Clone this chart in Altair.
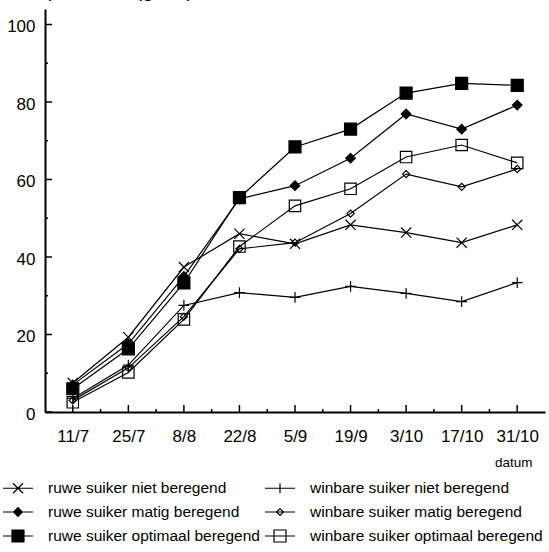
import altair as alt
import pandas as pd
from datetime import date

# ---- data ----
datums = ["11/7", "25/7", "8/8", "22/8", "5/9", "19/9", "3/10", "17/10", "31/10"]
ruwe_niet = [7.5, 19.3, 37.4, 46.0, 43.4, 48.3, 46.3, 43.7, 48.3]
ruwe_matig = [7.0, 17.6, 35.0, 55.0, 58.4, 65.5, 76.9, 73.0, 79.2]
ruwe_opt = [6.0, 16.3, 33.3, 55.3, 68.4, 73.0, 82.3, 84.8, 84.3]
winb_niet = [3.5, 12.1, 27.5, 30.8, 29.6, 32.4, 30.6, 28.5, 33.4]
winb_matig = [3.0, 11.4, 24.6, 42.1, 43.7, 51.2, 61.4, 58.1, 62.7]
winb_opt = [2.5, 10.2, 23.9, 42.7, 53.2, 57.6, 65.8, 68.9, 64.3]
namen = ["ruwe suiker niet beregend", "ruwe suiker matig beregend",
         "ruwe suiker optimaal beregend", "winbare suiker niet beregend",
         "winbare suiker matig beregend", "winbare suiker optimaal beregend"]
y_major = [0, 20, 40, 60, 80, 100]
y_minor = [10, 30, 50, 70, 90]
y_title = "ds, produktie (g/m2)"
x_title = "datum"

start = date(1990, 7, 4)
end = date(1990, 11, 7)


def dag(lbl):
    d, m = map(int, lbl.split("/"))
    return (date(1990, m, d) - start).days


dagen = [dag(s) for s in datums]
x_max = (end - start).days
x_minor = [d + 7 for d in dagen[:-1]]

waarden = [ruwe_niet, ruwe_matig, ruwe_opt, winb_niet, winb_matig, winb_opt]
rows = []
for naam, vals in zip(namen, waarden):
    for lbl, dg, v in zip(datums, dagen, vals):
        rows.append({"serie": naam, "dag": dg, "datum": lbl, "waarde": v})
df = pd.DataFrame(rows)

# marker shapes (size 144 -> 6 px per unit)
marker_paths = [
    "M-0.85,-0.85L0.85,0.85M-0.85,0.85L0.85,-0.85",
    "M-0.8,0L0,-0.8L0.8,0L0,0.8Z",
    "M-1,-1H1V1H-1Z",
    "M-0.9,0H0.9M0,-0.9V0.9",
    "M-0.6,0L0,-0.6L0.6,0L0,0.6Z",
    "M-0.95,-0.95H0.95V0.95H-0.95Z",
]
gevuld = [False, True, True, False, False, False]
fills = ["transparent", "black", "black", "transparent", "transparent", "transparent"]
# legend symbols (size 576 -> 12 px per unit): line + marker
L = "M-1.25,0H1.25"
legend_paths = [
    L + "M-0.42,-0.42L0.42,0.42M-0.42,0.42L0.42,-0.42",
    L + "M-0.36,0L0,-0.36L0.36,0L0,0.36Z",
    L + "M-0.5,-0.5H0.5V0.5H-0.5Z",
    L + "M0,-0.42V0.42",
    L + "M-0.28,0L0,-0.28L0.28,0L0,0.28Z",
    L + "M-0.5,-0.5H0.5V0.5H-0.5Z",
]

FONT = "Liberation Sans"
W, H = 500, 403

xscale = alt.Scale(domain=[0, x_max], nice=False, zero=False)
yscale = alt.Scale(domain=[0, 104], nice=False, zero=False)

label_map = "{" + ",".join(f"'{d}':'{s}'" for d, s in zip(dagen, datums)) + "}"

x_axis = alt.Axis(values=dagen, labelExpr=f"{label_map}[datum.value]", ticks=False, grid=False,
                  domainWidth=2, domainColor="black", labelFontSize=17, labelFont=FONT,
                  labelColor="black", labelPadding=16, labelFlush=False, labelOverlap=False,
                  title=x_title, titleFont=FONT, titleFontSize=13.5, titleFontWeight="normal",
                  titleColor="black", titleAnchor="end", titleAlign="right",
                  titleBaseline="top", titleX=487, titleY=43)
y_axis = alt.Axis(values=y_major, ticks=False, grid=False, domainWidth=2, domainColor="black",
                  labelFontSize=17, labelFont=FONT, labelColor="black", labelPadding=10,
                  labelOffset=2, labelFlush=False,
                  title=y_title, titleFont=FONT, titleFontSize=20, titleFontWeight="normal",
                  titleColor="black", titleAngle=0, titleAlign="left",
                  titleBaseline="alphabetic", titleX=-30, titleY=-13)

X = alt.X("dag:Q", scale=xscale, axis=x_axis)
Y = alt.Y("waarde:Q", scale=yscale, axis=y_axis)

base = alt.Chart(df)

lines = base.mark_line(color="black", strokeWidth=1.2).encode(x=X, y=Y, detail="serie:N")

point_layers = []
for naam, pad, vol in zip(namen, marker_paths, gevuld):
    if vol:
        mk = base.mark_point(shape=pad, size=144, filled=True, fill="black", stroke="black",
                             strokeWidth=1.2, opacity=1)
    else:
        mk = base.mark_point(shape=pad, size=144, filled=False, stroke="black",
                             strokeWidth=1.2, opacity=1)
    point_layers.append(mk.transform_filter(alt.datum.serie == naam).encode(x=X, y=Y))

leg = alt.Legend(
    title=None, orient="none", legendX=-40, legendY=466, columns=2,
    labelFontSize=15.5, labelFont=FONT, labelColor="black", labelLimit=400,
    symbolSize=576, labelOffset=17, columnPadding=2, rowPadding=2,
    symbolStrokeWidth=1.2, symbolOpacity=1,
)
legend_layer = base.transform_filter("datum.dag < 0").mark_point(size=576, strokeWidth=1.2).encode(
    x=X, y=Y,
    shape=alt.Shape("serie:N", scale=alt.Scale(domain=namen, range=legend_paths), legend=leg),
    fill=alt.Fill("serie:N", scale=alt.Scale(domain=namen, range=fills), legend=leg),
    stroke=alt.Stroke("serie:N", scale=alt.Scale(domain=namen, range=["black"] * 6), legend=leg),
)

ymaj_ticks = alt.Chart(pd.DataFrame({"waarde": y_major})).mark_rule(color="black", strokeWidth=1.5).encode(
    y=Y, x=alt.value(0), x2=alt.value(7))
ymin_ticks = alt.Chart(pd.DataFrame({"waarde": y_minor})).mark_rule(color="black", strokeWidth=1.5).encode(
    y=Y, x=alt.value(0), x2=alt.value(3))
xmaj_ticks = alt.Chart(pd.DataFrame({"dag": dagen})).mark_rule(color="black", strokeWidth=1.5).encode(
    x=X, y=alt.value(H), y2=alt.value(H - 7))
xmin_ticks = alt.Chart(pd.DataFrame({"dag": x_minor})).mark_rule(color="black", strokeWidth=1.5).encode(
    x=X, y=alt.value(H), y2=alt.value(H - 3))

chart = alt.layer(lines, ymaj_ticks, ymin_ticks, xmaj_ticks, xmin_ticks, *point_layers,
                  legend_layer).properties(
    width=W, height=H,
    padding={"left": 45, "top": 9, "right": 4, "bottom": 140},
    autosize=alt.AutoSizeParams(type="none"),
    background="white",
).configure_view(stroke=None)

chart.save("out.html", embed_options={"renderer": "svg", "actions": False})
